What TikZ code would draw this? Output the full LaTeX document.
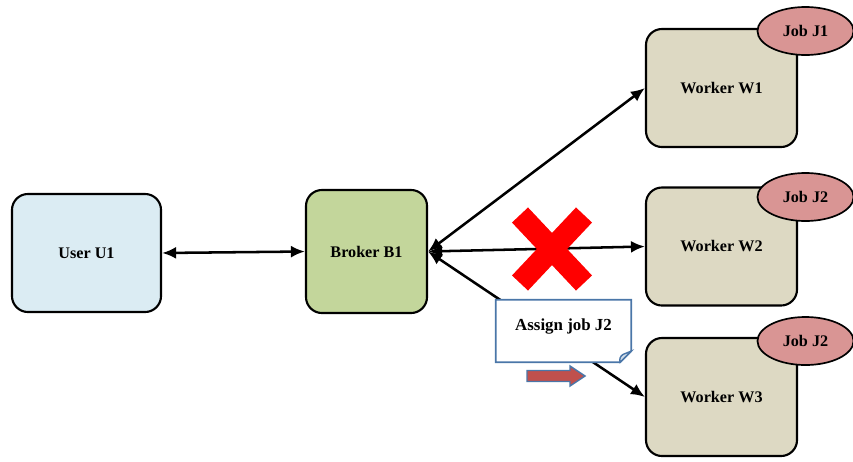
\documentclass[tikz,border=0pt]{standalone}
\usepackage{fontspec}
\setmainfont{Liberation Serif}
\usetikzlibrary{arrows.meta}
\usetikzlibrary{shapes.geometric}
\definecolor{userblue}{HTML}{DBECF3}
\definecolor{brokergreen}{HTML}{C3D69B}
\definecolor{workertan}{HTML}{DDD9C3}
\definecolor{jobpink}{HTML}{D99594}
\definecolor{noteblue}{HTML}{4A76A8}
\definecolor{arrowred}{HTML}{C0504D}
\tikzset{
    entity/.style={
        draw=black, line width=1.5pt, rounded corners=0.4cm,
        font=\fontsize{11.5}{13}\selectfont\bfseries
    },
    workerbox/.style={entity, fill=workertan, minimum width=3.775cm, minimum height=2.95cm},
    jobtag/.style={
        ellipse, draw=black, line width=1.2pt, fill=jobpink,
        minimum width=2.4cm, minimum height=1.2cm, inner sep=0pt,
        font=\fontsize{11.5}{13}\selectfont\bfseries
    },
    link/.style={
        {Latex[length=0.35cm,width=0.3cm]}-{Latex[length=0.35cm,width=0.3cm]},
        line width=1.8pt
    },
    crossbar/.style={draw=red, line width=0.55cm}
}

\begin{document}
\begin{tikzpicture}[x=0.025cm, y=-0.025cm]

    \useasboundingbox (0,0) rectangle (853,461);

    % user, broker and workers
    \node[entity, fill=userblue, minimum width=3.725cm, minimum height=2.95cm] (user) at (86.5,253) {User U1};
    \node[entity, fill=brokergreen, minimum width=3.025cm, minimum height=3.075cm] (broker) at (366.5,251.5) {Broker B1};

    \node[workerbox] (w1) at (721.5,88) {Worker W1};
    \node[workerbox] (w2) at (721.5,246.5) {Worker W2};
    \node[workerbox] (w3) at (721.5,397) {Worker W3};

    \draw[link] (user.east) -- (broker.west);
    \draw[link] (broker.east) -- (w1.west);
    \draw[link] (broker.east) -- (w2.west);
    \draw[link] (broker.east) -- (w3.west);

    % failed worker
    \draw[crossbar] (520,215) -- (584,283);
    \draw[crossbar] (584,215) -- (520,283);

    % note with folded corner
    \node[minimum width=3.375cm, minimum height=1.55cm] (assign) at (563.5,331) {};
    \draw[noteblue, line width=1.2pt, fill=white]
        (assign.north west) -- (assign.north east) -- ([yshift=0.28cm]assign.south east)
        -- ([xshift=-0.28cm]assign.south east) -- (assign.south west) -- cycle;
    \draw[noteblue, line width=1pt, fill=noteblue!25]
        ([yshift=0.28cm]assign.south east) -- ([xshift=-0.28cm]assign.south east)
        to[bend left=40] ([xshift=-0.2cm,yshift=0.2cm]assign.south east) -- cycle;
    \node[font=\fontsize{12}{14}\selectfont\bfseries] (assigntext) at ([yshift=0.1cm]assign.center) {Assign job J2};

    % block arrow under the note
    \coordinate (push) at (527,376);
    \draw[noteblue, line width=1pt, fill=arrowred]
        (push) ++(0,-5.5) -- ++(43,0) -- ++(0,-4.5) -- ++(15,10) -- ++(-15,10)
        -- ++(0,-4.5) -- ++(-43,0) -- cycle;

    % jobs on the workers
    \node[jobtag] (j1) at (805.5,31) {Job J1};
    \node[jobtag] (j2) at (805.5,197) {Job J2};
    \node[jobtag] (j3) at (805.5,341) {Job J2};

\end{tikzpicture}
\end{document}
